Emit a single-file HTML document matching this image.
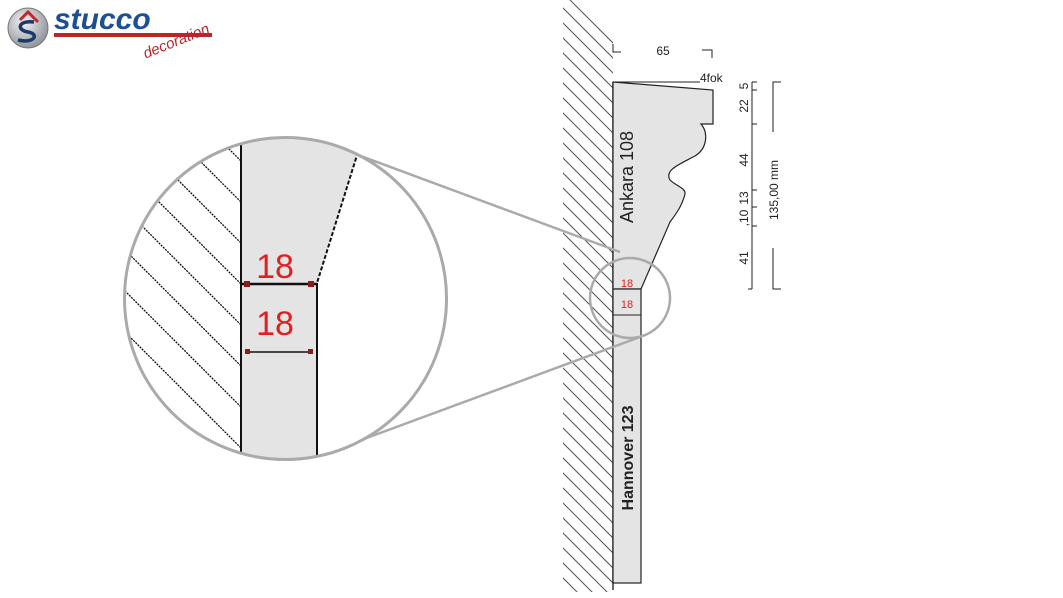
<!DOCTYPE html>
<html><head><meta charset="utf-8"><style>
html,body{margin:0;padding:0;background:#fff;width:1063px;height:598px;overflow:hidden;}
svg{display:block;}
text{font-family:"Liberation Sans",Arial,sans-serif;}
</style></head><body>
<svg width="1063" height="598" viewBox="0 0 1063 598" xmlns="http://www.w3.org/2000/svg">
<defs>
<clipPath id="wallclip"><rect x="563" y="0" width="50" height="592"/></clipPath>
<clipPath id="bigc"><circle cx="285.5" cy="298.5" r="161"/></clipPath>
<radialGradient id="lg" cx="0.4" cy="0.35" r="0.7"><stop offset="0" stop-color="#f4f4f4"/><stop offset="1" stop-color="#8a8f96"/></radialGradient>
</defs>

<!-- logo -->
<circle cx="28" cy="28" r="20" fill="url(#lg)" stroke="#777" stroke-width="1"/>
<path d="M20 20 L28 12 L38 22" stroke="#c0282d" stroke-width="3" fill="none"/>
<path d="M34 22 C18 20 16 30 28 32 C40 34 34 44 18 40" stroke="#1a3a6a" stroke-width="3.5" fill="none"/>
<text x="54" y="29" font-family="Liberation Serif,serif" font-style="italic" font-weight="bold" font-size="30" fill="#1d4f93">stucco</text>
<rect x="54" y="33" width="158" height="4" fill="#b8262b"/>
<text x="140" y="50" font-family="Liberation Serif,serif" font-style="italic" font-size="15" fill="#b8262b" transform="rotate(-22 165 40)">decoration</text>

<!-- wall hatch -->
<g clip-path="url(#wallclip)" stroke="#555" stroke-width="1" fill="none">
<path d="M520 -50 l100 100 M520 -35 l100 100 M520 -20 l100 100 M520 -5 l100 100 M520 10 l100 100 M520 25 l100 100 M520 40 l100 100 M520 55 l100 100 M520 70 l100 100 M520 85 l100 100 M520 100 l100 100 M520 115 l100 100 M520 130 l100 100 M520 145 l100 100 M520 160 l100 100 M520 175 l100 100 M520 190 l100 100 M520 205 l100 100 M520 220 l100 100 M520 235 l100 100 M520 250 l100 100 M520 265 l100 100 M520 280 l100 100 M520 295 l100 100 M520 310 l100 100 M520 325 l100 100 M520 340 l100 100 M520 355 l100 100 M520 370 l100 100 M520 385 l100 100 M520 400 l100 100 M520 415 l100 100 M520 430 l100 100 M520 445 l100 100 M520 460 l100 100 M520 475 l100 100 M520 490 l100 100 M520 505 l100 100 M520 520 l100 100 M520 535 l100 100"/>
</g>
<line x1="613" y1="82" x2="613" y2="590" stroke="#333" stroke-width="1.5"/>

<!-- Ankara profile -->
<path d="M613 82 L713 90 L713 124 L701 124 C708 132 708 148 695 156 C680 164 664 170 670 180 C676 186 686 188 685 194 C682 206 676 214 670 222 L641 289 L613 289 Z" fill="#e4e4e4" stroke="#222" stroke-width="1.2"/>
<rect x="613" y="289" width="28" height="294" fill="#e4e4e4" stroke="#222" stroke-width="1.2"/>
<line x1="613" y1="82" x2="700" y2="82" stroke="#222" stroke-width="1"/>
<text transform="translate(633 177) rotate(-90)" text-anchor="middle" font-size="18" fill="#222">Ankara 108</text>
<text transform="translate(633 458) rotate(-90)" text-anchor="middle" font-size="16" font-weight="bold" fill="#222">Hannover 123</text>
<line x1="613" y1="289" x2="641" y2="289" stroke="#222"/>
<line x1="613" y1="315" x2="641" y2="315" stroke="#222"/>
<text x="627" y="287" text-anchor="middle" font-size="11" fill="#e02020">18</text>
<text x="627" y="308" text-anchor="middle" font-size="11" fill="#e02020">18</text>

<!-- top dims -->
<path d="M613 44 V52 H621" stroke="#222" fill="none"/>
<path d="M702 50 H712 V58" stroke="#222" fill="none"/>
<text x="663" y="55" text-anchor="middle" font-size="12" fill="#222">65</text>
<text x="700" y="82" font-size="12" fill="#222">4fok</text>

<!-- right dims -->
<line x1="752" y1="82" x2="752" y2="289" stroke="#222"/>
<path d="M752 82 h5 M752 90 h5 M752 124 h5 M752 190 h5 M752 207 h5 M752 226 h5 M748 289 h4" stroke="#222"/>
<g font-size="12" fill="#222" text-anchor="middle">
<text transform="translate(748 86) rotate(-90)">5</text>
<text transform="translate(748 106) rotate(-90)">22</text>
<text transform="translate(748 160) rotate(-90)">44</text>
<text transform="translate(748 198) rotate(-90)">13</text>
<text transform="translate(748 218) rotate(-90)">,10</text>
<text transform="translate(748 258) rotate(-90)">41</text>
</g>
<path d="M781 82 H773 V132 M773 248 V289 H781" stroke="#222" fill="none"/>
<text transform="translate(778 190) rotate(-90)" text-anchor="middle" font-size="12" fill="#222">135,00 mm</text>

<!-- connector lines -->
<line x1="358" y1="155" x2="620" y2="252" stroke="#aaa" stroke-width="2.5"/>
<line x1="318" y1="456" x2="640" y2="337" stroke="#aaa" stroke-width="2.5"/>
<circle cx="630" cy="298" r="40" fill="none" stroke="#aaa" stroke-width="2.5"/>

<!-- big magnifier -->
<circle cx="285.5" cy="298.5" r="161" fill="#fff"/>
<g clip-path="url(#bigc)">
<g stroke="#111" stroke-width="1.3" stroke-dasharray="2 1" fill="none">
<path d="M40 -40 l201 201 M40 1 l201 201 M40 42 l201 201 M40 83 l201 201 M40 124 l201 201 M40 165 l201 201 M40 206 l201 201 M40 247 l201 201 M40 288 l201 201 M40 329 l201 201 M40 370 l201 201"/>
</g>
<path d="M241 130 L362 130 L358 152 L317 283 L317 470 L241 470 Z" fill="#e4e4e4"/>
<line x1="241" y1="130" x2="241" y2="470" stroke="#111" stroke-width="2"/>
<line x1="358" y1="152" x2="317" y2="283" stroke="#111" stroke-width="2" stroke-dasharray="4 2"/>
<line x1="317" y1="283" x2="317" y2="470" stroke="#111" stroke-width="2"/>
<line x1="241" y1="284" x2="317" y2="284" stroke="#111" stroke-width="2.5"/>
<line x1="245" y1="352" x2="313" y2="352" stroke="#111" stroke-width="1.5"/>
<g fill="#8b1a1a"><rect x="244" y="281" width="6" height="6"/><rect x="308" y="281" width="6" height="6"/><rect x="245" y="349" width="5" height="5"/><rect x="308" y="349" width="5" height="5"/></g>
<text x="275" y="278" text-anchor="middle" font-size="34" fill="#e02020">18</text>
<text x="275" y="335" text-anchor="middle" font-size="34" fill="#e02020">18</text>
</g>
<circle cx="285.5" cy="298.5" r="161" fill="none" stroke="#aaa" stroke-width="3"/>
</svg>
</body></html>
